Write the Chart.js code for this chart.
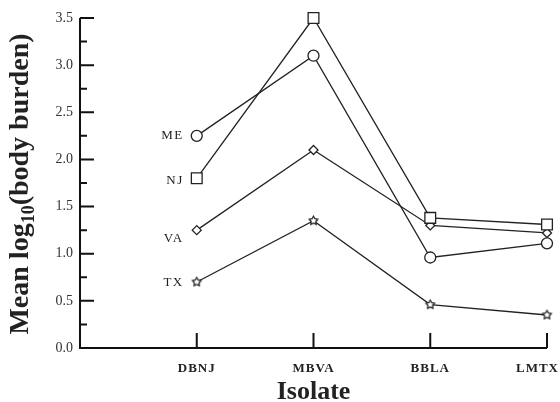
<!DOCTYPE html>
<html>
<head>
<meta charset="utf-8">
<script src="https://cdn.jsdelivr.net/npm/chart.js@4.4.1/dist/chart.umd.min.js"></script>
<style>
  html, body { margin: 0; padding: 0; background: #fff; }
  #wrap { width: 560px; height: 402px; }
</style>
</head>
<body>
<div id="wrap"><canvas id="chart" width="560" height="402"></canvas></div>
<script>
// isolates on the x axis (positions 1..4)
const isolates = ['DBNJ', 'MBVA', 'BBLA', 'LMTX'];

// mean log10 body burden per source population
const seriesNames = ['ME', 'NJ', 'VA', 'TX'];
const meValues = [2.25, 3.10, 0.96, 1.11];
const njValues = [1.80, 3.50, 1.38, 1.31];
const vaValues = [1.25, 2.10, 1.30, 1.22];
const txValues = [0.70, 1.35, 0.46, 0.35];

const yMin = 0;
const yMax = 3.5;
const yStep = 0.25; // minor ticks, labels every 0.5

const INK = '#222';
const SERIF = '"Liberation Serif", "Times New Roman", serif';

// small outlined star for TX
function makeStar(r) {
    const s = Math.ceil(r * 2 + 4);
    const c = document.createElement('canvas');
    c.width = s;
    c.height = s;
    const g = c.getContext('2d');
    g.translate(s / 2, s / 2);
    g.beginPath();
    for (let i = 0; i < 10; i++) {
        const rr = i % 2 ? r * 0.55 : r;
        const a = -Math.PI / 2 + i * Math.PI / 5;
        g.lineTo(rr * Math.cos(a), rr * Math.sin(a));
    }
    g.closePath();
    g.fillStyle = '#fff';
    g.fill();
    g.lineWidth = 1.3;
    g.strokeStyle = INK;
    g.stroke();
    return c;
}

const toPoints = vals => vals.map((v, i) => ({ x: i + 1, y: v }));

function series(label, vals, style, radius) {
    return {
        label: label,
        data: toPoints(vals),
        borderColor: INK,
        borderWidth: 1.3,
        backgroundColor: '#fff',
        pointStyle: style,
        pointRadius: radius,
        pointBorderWidth: 1.3,
        pointBackgroundColor: '#fff',
        pointBorderColor: INK,
        tension: 0,
        fill: false,
        clip: false
    };
}

// series name written left of the first point (pixel nudges only)
const labelNudge = { ME: 0, NJ: 2, VA: 8, TX: 1 };

const axesPlugin = {
    id: 'axesPlugin',
    afterDraw(chart) {
        const { ctx, chartArea: a, scales: { x, y } } = chart;
        ctx.save();

        // axis lines
        ctx.strokeStyle = '#111';
        ctx.lineWidth = 2;
        ctx.beginPath();
        ctx.moveTo(a.left, a.top);
        ctx.lineTo(a.left, a.bottom);
        ctx.lineTo(a.right, a.bottom);
        ctx.stroke();

        // inward y ticks
        ctx.beginPath();
        y.ticks.forEach(t => {
            const py = y.getPixelForValue(t.value);
            const major = Math.abs(t.value * 2 - Math.round(t.value * 2)) < 1e-6;
            if (t.value === yMin) return;
            ctx.moveTo(a.left, py);
            ctx.lineTo(a.left + (major ? 14 : 7), py);
        });
        // upward x ticks
        isolates.forEach((name, i) => {
            const px = x.getPixelForValue(i + 1);
            ctx.moveTo(px, a.bottom);
            ctx.lineTo(px, a.bottom - 15);
        });
        ctx.stroke();

        // x tick labels (kept inside the canvas at the right edge)
        ctx.fillStyle = INK;
        ctx.font = 'bold 13px ' + SERIF;
        ctx.letterSpacing = '1px';
        ctx.textAlign = 'center';
        ctx.textBaseline = 'alphabetic';
        isolates.forEach((name, i) => {
            const w = ctx.measureText(name).width;
            const cx = Math.min(x.getPixelForValue(i + 1), chart.width - 1 - w / 2);
            ctx.fillText(name, cx, a.bottom + 24);
        });

        // series labels
        ctx.font = '13px ' + SERIF;
        ctx.letterSpacing = '1.5px';
        ctx.textAlign = 'right';
        ctx.textBaseline = 'middle';
        chart.data.datasets.forEach(ds => {
            const p = ds.data[0];
            ctx.fillText(ds.label, x.getPixelForValue(p.x) - 13,
                y.getPixelForValue(p.y) + labelNudge[ds.label]);
        });
        ctx.letterSpacing = '0px';

        // x title
        ctx.font = 'bold 26px ' + SERIF;
        ctx.textAlign = 'center';
        ctx.textBaseline = 'alphabetic';
        ctx.fillText('Isolate', (a.left + a.right) / 2, a.bottom + 51);

        // y title with subscript
        const big = 'bold 28px ' + SERIF;
        const small = 'bold 18px ' + SERIF;
        const parts = [
            { t: 'Mean log', f: big, dy: 0 },
            { t: '10', f: small, dy: 6 },
            { t: '(body burden)', f: big, dy: 0 }
        ];
        let total = 0;
        parts.forEach(p => { ctx.font = p.f; p.w = ctx.measureText(p.t).width; total += p.w; });
        ctx.translate(a.left - 52, (a.top + a.bottom) / 2 + 1);
        ctx.rotate(-Math.PI / 2);
        ctx.textAlign = 'left';
        let cx = -total / 2;
        parts.forEach(p => {
            ctx.font = p.f;
            ctx.fillText(p.t, cx, p.dy);
            cx += p.w;
        });

        ctx.restore();
    }
};

new Chart(document.getElementById('chart'), {
    type: 'line',
    data: {
        datasets: [
            series(seriesNames[0], meValues, 'circle', 5.5),
            series(seriesNames[1], njValues, 'rect', 7.6),
            series(seriesNames[2], vaValues, 'rectRot', 4.5),
            series(seriesNames[3], txValues, makeStar(4.5), 4.5)
        ]
    },
    options: {
        responsive: false,
        animation: false,
        layout: { padding: { top: 18, right: 13, bottom: 0, left: 0 } },
        plugins: {
            legend: { display: false },
            tooltip: { enabled: false }
        },
        scales: {
            x: {
                type: 'linear',
                min: 0,
                max: isolates.length,
                grid: { display: false, drawTicks: false },
                border: { display: false },
                ticks: { display: false },
                afterFit: s => { s.height = 54; }
            },
            y: {
                min: yMin,
                max: yMax,
                grid: { display: false, drawTicks: false },
                border: { display: false },
                ticks: {
                    stepSize: yStep,
                    padding: 7,
                    color: '#333',
                    font: { family: SERIF, size: 14 },
                    callback: v => Math.abs(v * 2 - Math.round(v * 2)) < 1e-6 ? v.toFixed(1) : ''
                },
                afterFit: s => { s.width = 80; }
            }
        }
    },
    plugins: [axesPlugin]
});
</script>
</body>
</html>
